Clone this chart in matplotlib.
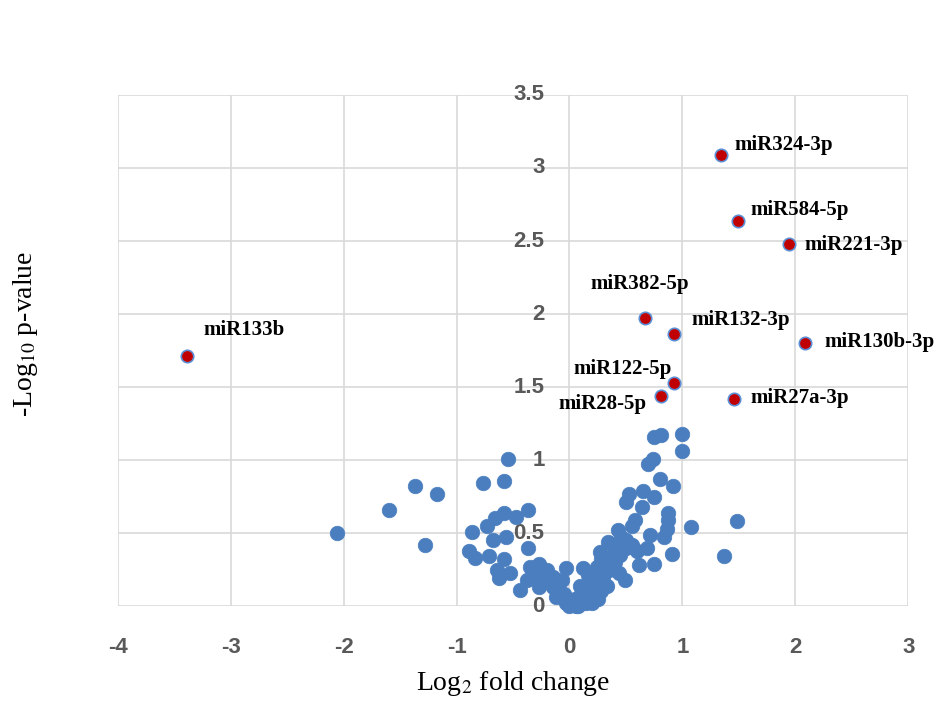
import matplotlib.pyplot as plt
import numpy as np

plt.rcParams['mathtext.fontset'] = 'stix'

# log2 fold change / -log10 p-value for the non-significant miRNAs
blue_x = [-2.06, -1.60, -1.37, -1.17, -1.28,
          -0.54, -0.77, -0.58, -0.37, -0.58, -0.66, -0.73, -0.47, -0.86, -0.68,
          -0.56, -0.89, -0.84, -0.71, -0.37, -0.58, -0.64, -0.62, -0.44, -0.35,
          -0.27, -0.31, -0.20, -0.15, -0.03, -0.12, -0.03, 0.06, -0.27, -0.38,
          -0.53, -0.22, -0.09, 0.02, -0.10, -0.20, -0.25, -0.15, -0.05,
          0.75, 0.81, 1.00, 1.00, 0.74, 0.70, 0.80, 0.92, 0.53, 0.65,
          0.75, 0.50, 0.64, 0.87, 0.87, 0.86, 1.08, 1.48, 1.37, 0.91,
          0.71, 0.69, 0.60, 0.55, 0.43, 0.34, 0.50, 0.84, 0.27, 0.38,
          0.62, 0.75, 0.12, 0.24, 0.29, 0.44, 0.49, 0.18, 0.33, 0.12,
          0.24, 0.06, 0.00, -0.07, 0.20, 0.15, 0.35, 0.40, 0.46, 0.58,
          0.16, 0.28, 0.09, 0.05, 0.10, 0.15, 0.20, 0.25, 0.30, 0.35,
          0.40, 0.30, 0.20, 0.45, 0.50, 0.55, 0.40, 0.35, 0.28, 0.15,
          0.08, 0.25]
blue_y = [0.50, 0.66, 0.82, 0.77, 0.42,
          1.01, 0.84, 0.86, 0.66, 0.64, 0.60, 0.55, 0.61, 0.51, 0.45,
          0.47, 0.38, 0.33, 0.34, 0.40, 0.32, 0.25, 0.19, 0.11, 0.27,
          0.29, 0.20, 0.18, 0.13, 0.26, 0.06, 0.02, 0.00, 0.13, 0.18,
          0.23, 0.23, 0.10, 0.04, 0.15, 0.25, 0.20, 0.20, 0.08,
          1.16, 1.17, 1.18, 1.06, 1.01, 0.97, 0.87, 0.82, 0.77, 0.79,
          0.75, 0.71, 0.68, 0.64, 0.59, 0.53, 0.54, 0.58, 0.34, 0.36,
          0.49, 0.40, 0.38, 0.55, 0.52, 0.44, 0.45, 0.47, 0.37, 0.34,
          0.28, 0.29, 0.26, 0.27, 0.23, 0.23, 0.18, 0.16, 0.14, 0.11,
          0.08, 0.04, 0.00, 0.18, 0.02, 0.06, 0.28, 0.42, 0.47, 0.59,
          0.21, 0.32, 0.14, 0.05, 0.08, 0.12, 0.15, 0.18, 0.20, 0.25,
          0.30, 0.30, 0.22, 0.35, 0.40, 0.42, 0.38, 0.33, 0.10, 0.02,
          0.00, 0.05]

# significant miRNAs
sig_names = ['miR324-3p', 'miR584-5p', 'miR221-3p', 'miR382-5p', 'miR132-3p',
             'miR130b-3p', 'miR122-5p', 'miR28-5p', 'miR27a-3p', 'miR133b']
sig_x = [1.34, 1.49, 1.94, 0.67, 0.93, 2.09, 0.93, 0.81, 1.46, -3.39]
sig_y = [3.09, 2.64, 2.48, 1.97, 1.86, 1.80, 1.53, 1.44, 1.42, 1.71]

x_ticks = [-4, -3, -2, -1, 0, 1, 2, 3]
y_ticks = [0, 0.5, 1, 1.5, 2, 2.5, 3, 3.5]

# label offsets in pixels (dx, dy, ha)
label_pos = {
    'miR324-3p': (14, 10, 'left'),
    'miR584-5p': (13, 11, 'left'),
    'miR221-3p': (16, -1, 'left'),
    'miR382-5p': (-55, 34, 'left'),
    'miR132-3p': (17, 14, 'left'),
    'miR130b-3p': (19, 1, 'left'),
    'miR122-5p': (-3, 14, 'right'),
    'miR28-5p': (-14, -8, 'right'),
    'miR27a-3p': (16, 1, 'left'),
    'miR133b': (17, 26, 'left'),
}

fig = plt.figure(figsize=(9.5, 7.25), dpi=100)
ax = fig.add_axes([0.124, 0.164, 0.832, 0.705])
ax.set_xlim(-4, 3)
ax.set_ylim(0, 3.5)

ax.set_xticks(x_ticks)
ax.set_yticks(y_ticks)
ax.grid(True, color='#d9d9d9', linewidth=1.2)
ax.set_axisbelow(True)
for s in ax.spines.values():
    s.set_visible(False)
ax.tick_params(length=0)

# x tick labels below the plot
ax.set_xticklabels([str(t) for t in x_ticks], fontfamily='Liberation Sans',
                   fontweight='bold', fontsize=16, color='#595959')
ax.tick_params(axis='x', pad=22)
# y tick labels next to x = 0
ax.set_yticklabels([])
for t in y_ticks:
    lab = '%g' % t
    ax.text(-0.22, t, lab, ha='right', va='center', fontfamily='Liberation Sans',
            fontweight='bold', fontsize=16, color='#595959')

ax.scatter(blue_x, blue_y, s=110, color='#4a7ebf', edgecolors='#4a7ebf',
           linewidths=0.5, zorder=3, clip_on=False)
ax.scatter(sig_x, sig_y, s=80, color='#c00000', edgecolors='#5b8fd6',
           linewidths=1.2, zorder=4, clip_on=False)

for name, x, y in zip(sig_names, sig_x, sig_y):
    dx, dy, ha = label_pos[name]
    ax.annotate(name, (x, y), xytext=(dx, dy), textcoords='offset pixels',
                ha=ha, va='center', fontfamily='Liberation Serif',
                fontweight='bold', fontsize=15, color='black',
                annotation_clip=False)

ax.set_xlabel('Log$_2$ fold change', fontfamily='Liberation Serif',
              fontsize=20, labelpad=8)
fig.text(0.027, 0.54, '-Log$_{10}$ p-value', rotation=90, ha='center',
         va='center', fontfamily='Liberation Serif', fontsize=20)

fig.savefig('out.png', dpi=100)
